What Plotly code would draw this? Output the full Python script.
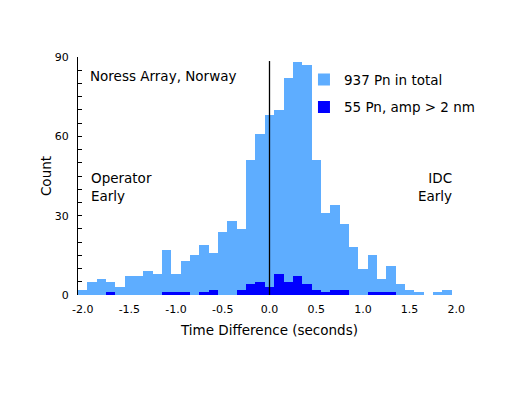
import plotly.graph_objects as go

# Bin centres (seconds), 0.1 s bins
bin_centers = [round(-2.0 + 0.1 * i, 1) for i in range(41)]

# Counts for all 937 Pn
total_counts = [2, 5, 6, 5, 3, 7, 7, 9, 8, 17,
                8, 13, 15, 19, 16, 24, 28, 25, 51, 61,
                68, 70, 82, 88, 87, 51, 31, 34, 27, 18,
                10, 15, 6, 11, 4, 2, 1, 0, 1, 2, 0]

# Counts for 55 Pn with amp > 2 nm
amp_counts = [0, 0, 0, 1, 0, 0, 0, 0, 0, 1,
              1, 1, 0, 1, 2, 0, 0, 2, 4, 5,
              3, 8, 5, 7, 4, 2, 1, 2, 2, 0,
              0, 1, 1, 1, 0, 0, 0, 0, 0, 0, 0]

x_tickvals = [-2.0, -1.5, -1.0, -0.5, 0.0, 0.5, 1.0, 1.5, 2.0]
x_ticktext = ["-2.0", "-1.5", "-1.0", "-0.5", "0.0", "0.5", "1.0", "1.5", "2.0"]
y_tickvals = [0, 30, 60, 90]

LIGHT = "#5EADFF"
DARK = "#0000FF"
FONT = "DejaVu Sans"
TXT = 13.5

fig = go.Figure()
fig.add_trace(go.Bar(x=bin_centers, y=total_counts, width=0.1,
                     marker=dict(color=LIGHT, line=dict(width=0)),
                     name="937 Pn in total", legendgroup="a"))
fig.add_trace(go.Bar(x=bin_centers, y=amp_counts, width=0.1,
                     marker=dict(color=DARK, line=dict(width=0)),
                     name="55 Pn, amp > 2 nm", legendgroup="b"))

fig.add_shape(type="line", x0=0, x1=0, xref="x", y0=0, y1=0.983, yref="paper",
              line=dict(color="black", width=1.3))

fig.add_annotation(x=0.027, y=0.92, xref="paper", yref="paper", xanchor="left", yanchor="middle",
                   text="Noress Array, Norway", showarrow=False, font=dict(size=TXT, color="black"))
fig.add_annotation(x=0.03, y=0.452, xref="paper", yref="paper", xanchor="left", yanchor="middle",
                   text="Operator<br>Early", showarrow=False, align="left",
                   font=dict(size=TXT, color="black"))
fig.add_annotation(x=0.981, y=0.452, xref="paper", yref="paper", xanchor="right", yanchor="middle",
                   text="IDC<br>Early", showarrow=False, align="right",
                   font=dict(size=TXT, color="black"))

fig.update_layout(
    width=509, height=393,
    margin=dict(l=78, r=48, t=57, b=98),
    paper_bgcolor="white", plot_bgcolor="white",
    barmode="overlay", bargap=0,
    font=dict(family=FONT, size=TXT, color="black"),
    showlegend=True,
    legend=dict(x=0.59, y=0.97, xanchor="left", yanchor="top",
                bgcolor="rgba(0,0,0,0)", tracegroupgap=7,
                font=dict(size=TXT)),
    xaxis=dict(range=[-2.05, 2.05], tickvals=x_tickvals, ticktext=x_ticktext,
               showgrid=False, zeroline=False, showline=False, ticks="",
               tickfont=dict(size=11), ticklabelstandoff=6,
               title=dict(text="Time Difference (seconds)", font=dict(size=TXT), standoff=10)),
    yaxis=dict(range=[0, 90], tickvals=y_tickvals, showgrid=False, zeroline=False,
               showline=True, linecolor="black", linewidth=1,
               ticks="inside", ticklen=4, tickcolor="black",
               minor=dict(dtick=5, ticks="inside", ticklen=4, tickcolor="black", showgrid=False),
               tickfont=dict(size=11), ticklabelstandoff=6,
               title=dict(text="Count", font=dict(size=TXT), standoff=0)),
)

fig.write_html("out.html", config={"displayModeBar": False},
               post_script="document.body.style.margin='0px';")
